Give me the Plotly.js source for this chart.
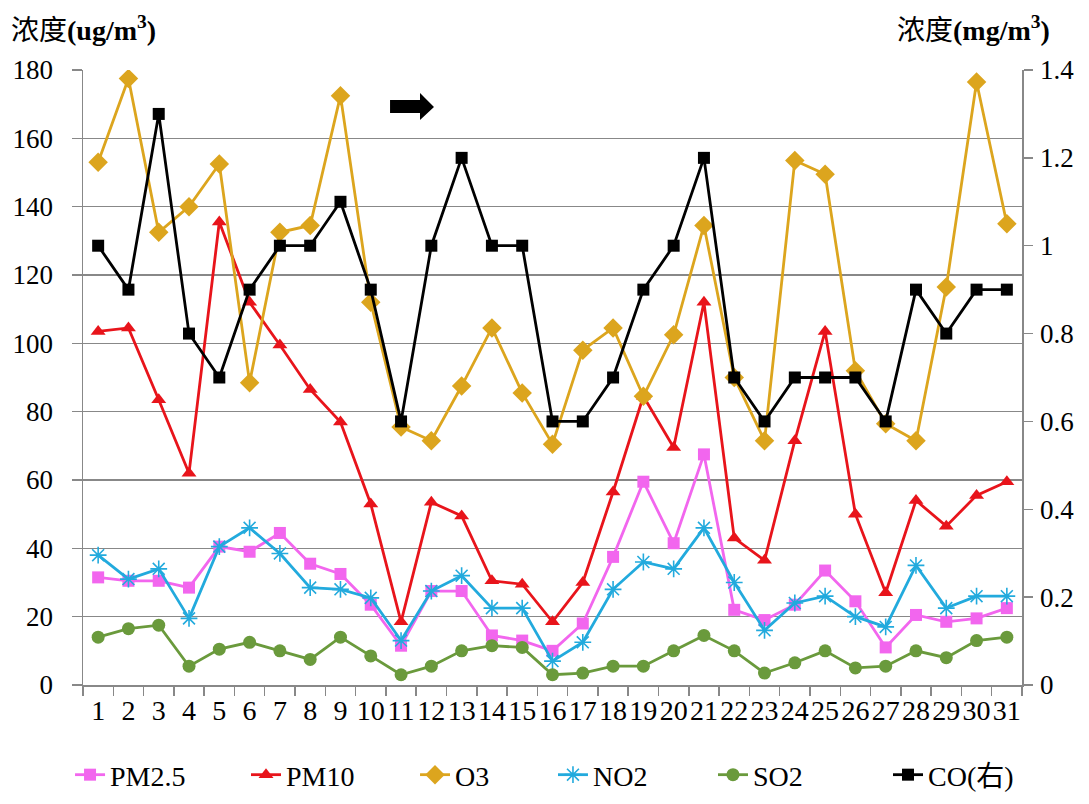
<!DOCTYPE html>
<html>
<head>
<meta charset="utf-8">
<script src="https://cdn.plot.ly/plotly-3.0.1.min.js"></script>
<style>html,body{margin:0;padding:0;background:#fff;}#chart{width:1089px;height:804px;}</style>
</head>
<body>
<div id="chart"></div>
<script>
const days = ['1','2','3','4','5','6','7','8','9','10','11','12','13','14','15','16','17','18','19','20','21','22','23','24','25','26','27','28','29','30','31'];
const pm25 = [31.5,30.5,30.5,28.5,40.5,39,44.5,35.5,32.5,23.5,11.5,27.5,27.5,14.5,13,10,18,37.5,59.5,41.5,67.5,22,19,23.5,33.5,24.5,11,20.5,18.5,19.5,22.5];
const pm10 = [103.5,104.5,83.5,62,135.5,112,99.5,86.5,77,53,18.5,53.5,49.5,30.5,29.5,18.5,30,56.5,84.5,69.5,112,43,36.5,71.5,103.5,50,27,54,46.5,55.5,59.5];
const o3 = [153,177.5,132.5,140,152.5,88.5,132.5,134.5,172.5,112,75.5,71.5,87.5,104.5,85.5,70.5,98,104.5,84.5,102.5,134.5,90,71.5,153.5,149.5,92,76.5,71.5,116.5,176.5,135];
const no2 = [38,31,34,19.5,40.5,46,38.5,28.5,28,25.5,13,27.5,32,22.5,22.5,7,12.5,28,36,34,46,30,16,24,26,20,17,35,22.5,26,26];
const so2 = [14,16.5,17.5,5.5,10.5,12.5,10,7.5,14,8.5,3,5.5,10,11.5,11,3,3.5,5.5,5.5,10,14.5,10,3.5,6.5,10,5,5.5,10,8,13,14];
const co = [1.0,0.9,1.3,0.8,0.7,0.9,1.0,1.0,1.1,0.9,0.6,1.0,1.2,1.0,1.0,0.6,0.6,0.7,0.9,1.0,1.2,0.7,0.6,0.7,0.7,0.7,0.6,0.9,0.8,0.9,0.9];
const leftTicks = [0,20,40,60,80,100,120,140,160,180];
const rightTicks = [0,0.2,0.4,0.6,0.8,1.0,1.2,1.4];

const serif = '"Times New Roman", "Liberation Serif", "DejaVu Serif", "Noto Sans CJK SC", serif';

function tr(name, y, color, symbol, size, yaxis, legendId, mline) {
  return {
    type: 'scatter', mode: 'lines+markers', name: name, x: days, y: y,
    yaxis: yaxis, legend: legendId,
    line: {color: color, width: 2.8},
    marker: {symbol: symbol, size: size, color: color, line: {color: color, width: mline || 0}}
  };
}

const data = [
  tr('PM2.5', pm25, '#F266EE', 'square', 12, 'y', 'legend'),
  tr('PM10', pm10, '#E8141B', 'triangle-up', 13, 'y', 'legend2'),
  tr('O3', o3, '#DCA51E', 'diamond', 15, 'y', 'legend3'),
  tr('NO2', no2, '#22AADD', 'asterisk-open', 14, 'y', 'legend4', 1.6),
  tr('SO2', so2, '#6A9A3C', 'circle', 13, 'y', 'legend5'),
  tr('CO(右)', co, '#000000', 'square', 12, 'y2', 'legend6')
];

function leg(xp) {
  return {orientation: 'h', x: xp, xanchor: 'left', y: -0.1463, yanchor: 'middle',
          bgcolor: 'rgba(0,0,0,0)', font: {family: serif, size: 28, color: '#000'}};
}

const layout = {
  width: 1089, height: 804,
  margin: {l: 83, r: 67, t: 70, b: 119, autoexpand: false},
  paper_bgcolor: '#fff', plot_bgcolor: '#fff',
  font: {family: serif, size: 27, color: '#000'},
  showlegend: true,
  legend: leg(-0.0138),
  legend2: leg(0.1736),
  legend3: leg(0.3536),
  legend4: leg(0.5005),
  legend5: leg(0.6709),
  legend6: leg(0.8573),
  xaxis: {
    type: 'category', categoryarray: days, categoryorder: 'array', range: [-0.5, 30.5],
    tickmode: 'linear', tick0: 0, dtick: 1,
    tickson: 'boundaries', ticks: 'outside', ticklen: 9, tickcolor: '#888', tickwidth: 1.5,
    showline: true, linecolor: '#888', linewidth: 1.5, showgrid: false,
    tickangle: 0, ticklabelstandoff: 0,
    tickfont: {family: serif, size: 28, color: '#000'},
    fixedrange: true
  },
  yaxis: {
    range: [0, 180], tickvals: leftTicks, ticks: 'outside', ticklen: 10, tickcolor: '#888', tickwidth: 1.5,
    showline: true, linecolor: '#888', linewidth: 1.5,
    showgrid: true, gridcolor: '#888', gridwidth: 1.5, zeroline: false,
    ticklabelstandoff: 13,
    tickfont: {family: serif, size: 27, color: '#000'}
  },
  yaxis2: {
    overlaying: 'y', side: 'right', range: [0, 1.4], tickvals: rightTicks,
    ticks: 'outside', ticklen: 9, tickcolor: '#888', tickwidth: 1.5,
    showline: true, linecolor: '#888', linewidth: 1.5, showgrid: false, zeroline: false,
    ticklabelstandoff: 2,
    tickfont: {family: serif, size: 27, color: '#000'}
  },
  annotations: [
    {xref: 'paper', yref: 'paper', x: -0.079, y: 1.068, xanchor: 'left', yanchor: 'middle', showarrow: false,
     text: '浓度<b>(ug/m<sup>3</sup>)</b>', font: {family: serif, size: 28, color: '#000'}},
    {xref: 'paper', yref: 'paper', x: 1.032, y: 1.068, xanchor: 'right', yanchor: 'middle', showarrow: false,
     text: '浓度<b>(mg/m<sup>3</sup>)</b>', font: {family: serif, size: 28, color: '#000'}}
  ],
  shapes: [
    {type: 'path', xref: 'paper', yref: 'paper', fillcolor: '#000', line: {width: 0},
     path: 'M 0.3270 0.9512 L 0.3589 0.9512 L 0.3589 0.9626 L 0.3738 0.9398 L 0.3589 0.9187 L 0.3589 0.9301 L 0.3270 0.9301 Z'}
  ]
};

Plotly.newPlot('chart', data, layout, {displayModeBar: false, staticPlot: true});
</script>
</body>
</html>
